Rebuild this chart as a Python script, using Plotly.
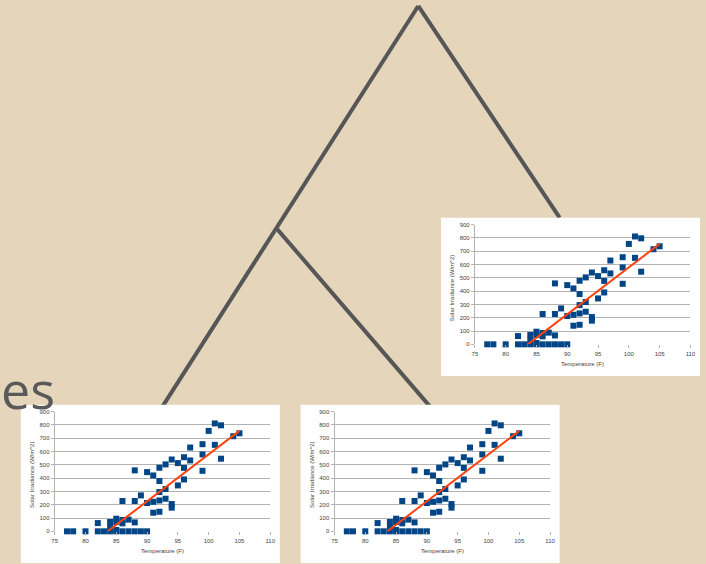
import plotly.graph_objects as go

# Temperature vs. solar irradiance observations
temperature_f = [77, 78, 80, 82, 82, 83, 84, 84, 84, 85, 85, 85, 85, 86, 86, 86, 86,
                 87, 87, 88, 88, 88, 88, 89, 89, 90, 90, 90, 91, 91, 91,
                 92, 92, 92, 92, 92, 93, 93, 93, 94, 94, 94, 95, 95, 96, 96, 96,
                 97, 97, 99, 99, 99, 100, 101, 101, 102, 102, 104, 105]
irradiance = [0, 0, 0, 62, 0, 0, 70, 30, 0, 95, 70, 10, 0, 228, 85, 60, 0,
              88, 0, 458, 228, 67, 0, 270, 0, 445, 213, 0, 420, 222, 140,
              478, 378, 295, 232, 147, 503, 318, 245, 540, 205, 178, 513, 345, 557, 477, 390,
              630, 533, 655, 578, 455, 755, 811, 650, 797, 546, 715, 737]

# Linear trend line end points
trend_x = [83.6, 105]
trend_y = [0, 755]

x_ticks = [75, 80, 85, 90, 95, 100, 105, 110]
y_ticks = [0, 100, 200, 300, 400, 500, 600, 700, 800, 900]

W, H = 706, 564
BG = "#E5D5BA"
TREE = "#565656"
GRID = "#B3B3B3"
TXT = "#444444"
FONT = "Liberation Sans"

# white chart panels (left, top) in pixels; each is 262 x 160
panels = [(443, 217), (18, 406), (301, 406)]
PW, PH = 262, 160
# plot area inside each panel
PL, PT, PLOT_W, PLOT_H = 34.3, 7, 218, 121


def px_x(v):
    return v / W


def px_y(v):
    return 1 - v / H


fig = go.Figure()
shapes = []
annotations = []

# tree branches
tree_segments = [((420, 3), (158, 413)), ((420, 3), (563, 217)), ((276, 227), (432, 408))]
for (x0, y0), (x1, y1) in tree_segments:
    shapes.append(dict(type="line", xref="paper", yref="paper",
                       x0=px_x(x0), y0=px_y(y0), x1=px_x(x1), y1=px_y(y1),
                       line=dict(color=TREE, width=4), layer="below"))

for i, (left, top) in enumerate(panels):
    suffix = "" if i == 0 else str(i + 1)
    xa, ya = "x" + suffix, "y" + suffix
    shapes.append(dict(type="rect", xref="paper", yref="paper",
                       x0=px_x(left), x1=px_x(left + PW), y0=px_y(top + PH), y1=px_y(top),
                       fillcolor="white", line=dict(width=0), layer="below"))
    x0 = left + PL
    y0 = top + PT
    xdom = [px_x(x0), px_x(x0 + PLOT_W)]
    ydom = [px_y(y0 + PLOT_H), px_y(y0)]

    fig.add_trace(go.Scatter(x=temperature_f, y=irradiance, mode="markers",
                             marker=dict(symbol="square", size=6, color="#004586"),
                             cliponaxis=False,
                             xaxis=xa, yaxis=ya, showlegend=False, hoverinfo="skip"))
    fig.add_trace(go.Scatter(x=trend_x, y=trend_y, mode="lines",
                             line=dict(color="#FF420E", width=2),
                             cliponaxis=False,
                             xaxis=xa, yaxis=ya, showlegend=False, hoverinfo="skip"))

    fig.layout["xaxis" + suffix] = dict(
        domain=xdom, anchor=ya, range=[75, 110], tickvals=x_ticks,
        showgrid=False, zeroline=False, showline=False,
        ticks="outside", ticklen=3, tickcolor=GRID,
        tickfont=dict(family=FONT, size=6, color=TXT), fixedrange=True)
    fig.layout["yaxis" + suffix] = dict(
        domain=ydom, anchor=xa, range=[0, 900], tickvals=y_ticks,
        showgrid=True, gridcolor=GRID, gridwidth=1, zeroline=False,
        showline=True, linecolor=GRID, linewidth=1,
        ticks="outside", ticklen=3, tickcolor=GRID,
        tickfont=dict(family=FONT, size=6, color=TXT), fixedrange=True)

    annotations.append(dict(text="Temperature (F)", xref="paper", yref="paper",
                            x=px_x(x0 + PLOT_W / 2), y=px_y(top + 148),
                            showarrow=False, xanchor="center", yanchor="middle",
                            font=dict(family=FONT, size=6, color=TXT)))
    annotations.append(dict(text="Solar Irradiance (W/m^2)", xref="paper", yref="paper",
                            x=px_x(left + 12), y=px_y(y0 + PLOT_H / 2 + 3),
                            showarrow=False, textangle=-90,
                            xanchor="center", yanchor="middle",
                            font=dict(family=FONT, size=6, color=TXT)))

# slide title fragment
annotations.append(dict(text="es", xref="paper", yref="paper",
                        x=px_x(-4), y=px_y(390), showarrow=False,
                        xanchor="left", yanchor="middle",
                        font=dict(family="Open Sans", size=52, color="#595959")))

fig.update_layout(
    width=W, height=H, margin=dict(l=0, r=0, t=0, b=0),
    paper_bgcolor=BG, plot_bgcolor="rgba(0,0,0,0)",
    shapes=shapes, annotations=annotations, showlegend=False,
)

fig.write_html("out.html", config={"displayModeBar": False})
